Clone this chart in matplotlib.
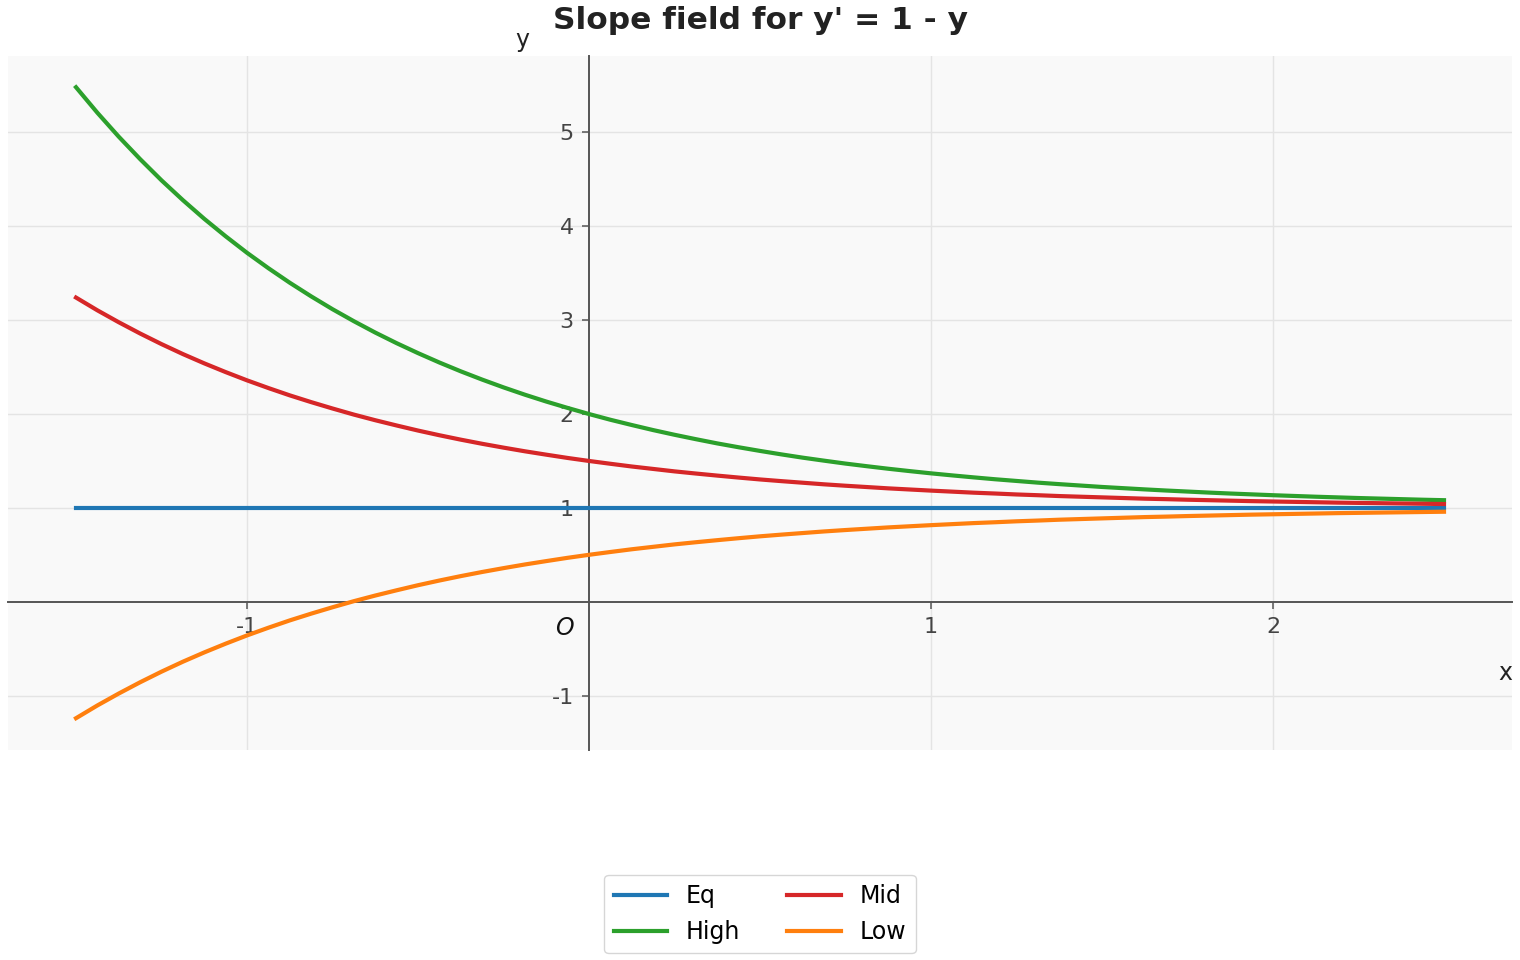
import matplotlib.pyplot as plt

xs = [-1.5 + 0.0625 * i for i in range(65)]
eq_x = [-1.5, 2.5]
eq_y = [1.0, 1.0]
high_y = [5.482, 5.210, 4.955, 4.716, 4.490, 4.279, 4.080, 3.894, 3.718, 3.554,
          3.399, 3.254, 3.117, 2.989, 2.868, 2.755, 2.649, 2.549, 2.455, 2.367,
          2.284, 2.206, 2.133, 2.065, 2.000, 1.939, 1.883, 1.829, 1.779, 1.732,
          1.687, 1.646, 1.607, 1.570, 1.535, 1.503, 1.472, 1.444, 1.417, 1.392,
          1.368, 1.346, 1.325, 1.305, 1.287, 1.269, 1.253, 1.238, 1.223, 1.210,
          1.197, 1.185, 1.174, 1.163, 1.153, 1.144, 1.135, 1.127, 1.119, 1.112,
          1.105, 1.099, 1.093, 1.087, 1.082]
mid_y = [3.241, 3.105, 2.978, 2.858, 2.745, 2.639, 2.540, 2.447, 2.359, 2.277,
         2.199, 2.127, 2.059, 1.994, 1.934, 1.878, 1.824, 1.774, 1.727, 1.683,
         1.642, 1.603, 1.567, 1.532, 1.500, 1.470, 1.441, 1.415, 1.389, 1.366,
         1.344, 1.323, 1.303, 1.285, 1.268, 1.251, 1.236, 1.222, 1.208, 1.196,
         1.184, 1.173, 1.162, 1.153, 1.143, 1.135, 1.126, 1.119, 1.112, 1.105,
         1.098, 1.093, 1.087, 1.082, 1.077, 1.072, 1.068, 1.064, 1.060, 1.056,
         1.053, 1.050, 1.047, 1.044, 1.041]
low_y = [-1.241, -1.105, -0.978, -0.858, -0.745, -0.639, -0.540, -0.447, -0.359, -0.277,
         -0.199, -0.127, -0.059, 0.006, 0.066, 0.122, 0.176, 0.226, 0.273, 0.317,
         0.358, 0.397, 0.433, 0.468, 0.500, 0.530, 0.559, 0.585, 0.611, 0.634,
         0.656, 0.677, 0.697, 0.715, 0.732, 0.749, 0.764, 0.778, 0.792, 0.804,
         0.816, 0.827, 0.838, 0.847, 0.857, 0.865, 0.874, 0.881, 0.888, 0.895,
         0.902, 0.907, 0.913, 0.918, 0.923, 0.928, 0.932, 0.936, 0.940, 0.944,
         0.947, 0.950, 0.953, 0.956, 0.959]
xticks = [-1, 1, 2]
yticks = [-1, 1, 2, 3, 4, 5]

fig = plt.figure(figsize=(15.2, 9.6), dpi=100)
ax = fig.add_axes([0.005, 0.219, 0.99, 0.723])
ax.set_facecolor('#f9f9f9')

lw = 3.0
ax.plot(eq_x, eq_y, color='#1f77b4', lw=lw, label='Eq', zorder=3)
ax.plot(xs, high_y, color='#2ca02c', lw=lw, label='High', zorder=3)
ax.plot(xs, mid_y, color='#d62728', lw=lw, label='Mid', zorder=3)
ax.plot(xs, low_y, color='#ff7f0e', lw=lw, label='Low', zorder=3)

ax.spines['left'].set_position(('data', 0))
ax.spines['bottom'].set_position(('data', 0))
ax.spines['right'].set_visible(False)
ax.spines['top'].set_visible(False)
for s in ['left', 'bottom']:
    ax.spines[s].set_color('#555555')
    ax.spines[s].set_linewidth(1.4)

ax.set_xticks(xticks)
ax.set_xticklabels([str(t) for t in xticks])
ax.set_yticks(yticks)
ax.set_yticklabels([str(t) for t in yticks])
ax.tick_params(colors='#555555', labelcolor='#444444', labelsize=16, length=5, width=1.1, pad=6)
ax.grid(True, color='#e4e4e4', lw=1.0, zorder=0)
ax.set_axisbelow(True)

ax.annotate('O', xy=(0, 0), xytext=(-18, -19), textcoords='offset points',
            fontsize=17, style='italic', ha='center', va='center', color='#111111')
ax.text(0.995, 0.111, 'x', transform=ax.transAxes, fontsize=17, ha='center', va='center', color='#222222')
ax.text(0.342, 1.022, 'y', transform=ax.transAxes, fontsize=17, ha='center', va='center', color='#222222')

ax.set_title("Slope field for y' = 1 - y", fontsize=22.5, fontweight='bold', color='#222222', pad=19)
ax.legend(loc='upper center', bbox_to_anchor=(0.5, -0.163), ncol=2, fontsize=17,
          frameon=True, edgecolor='#cccccc', columnspacing=2.0, handlelength=2.25)

fig.savefig('out.png', dpi=100)
